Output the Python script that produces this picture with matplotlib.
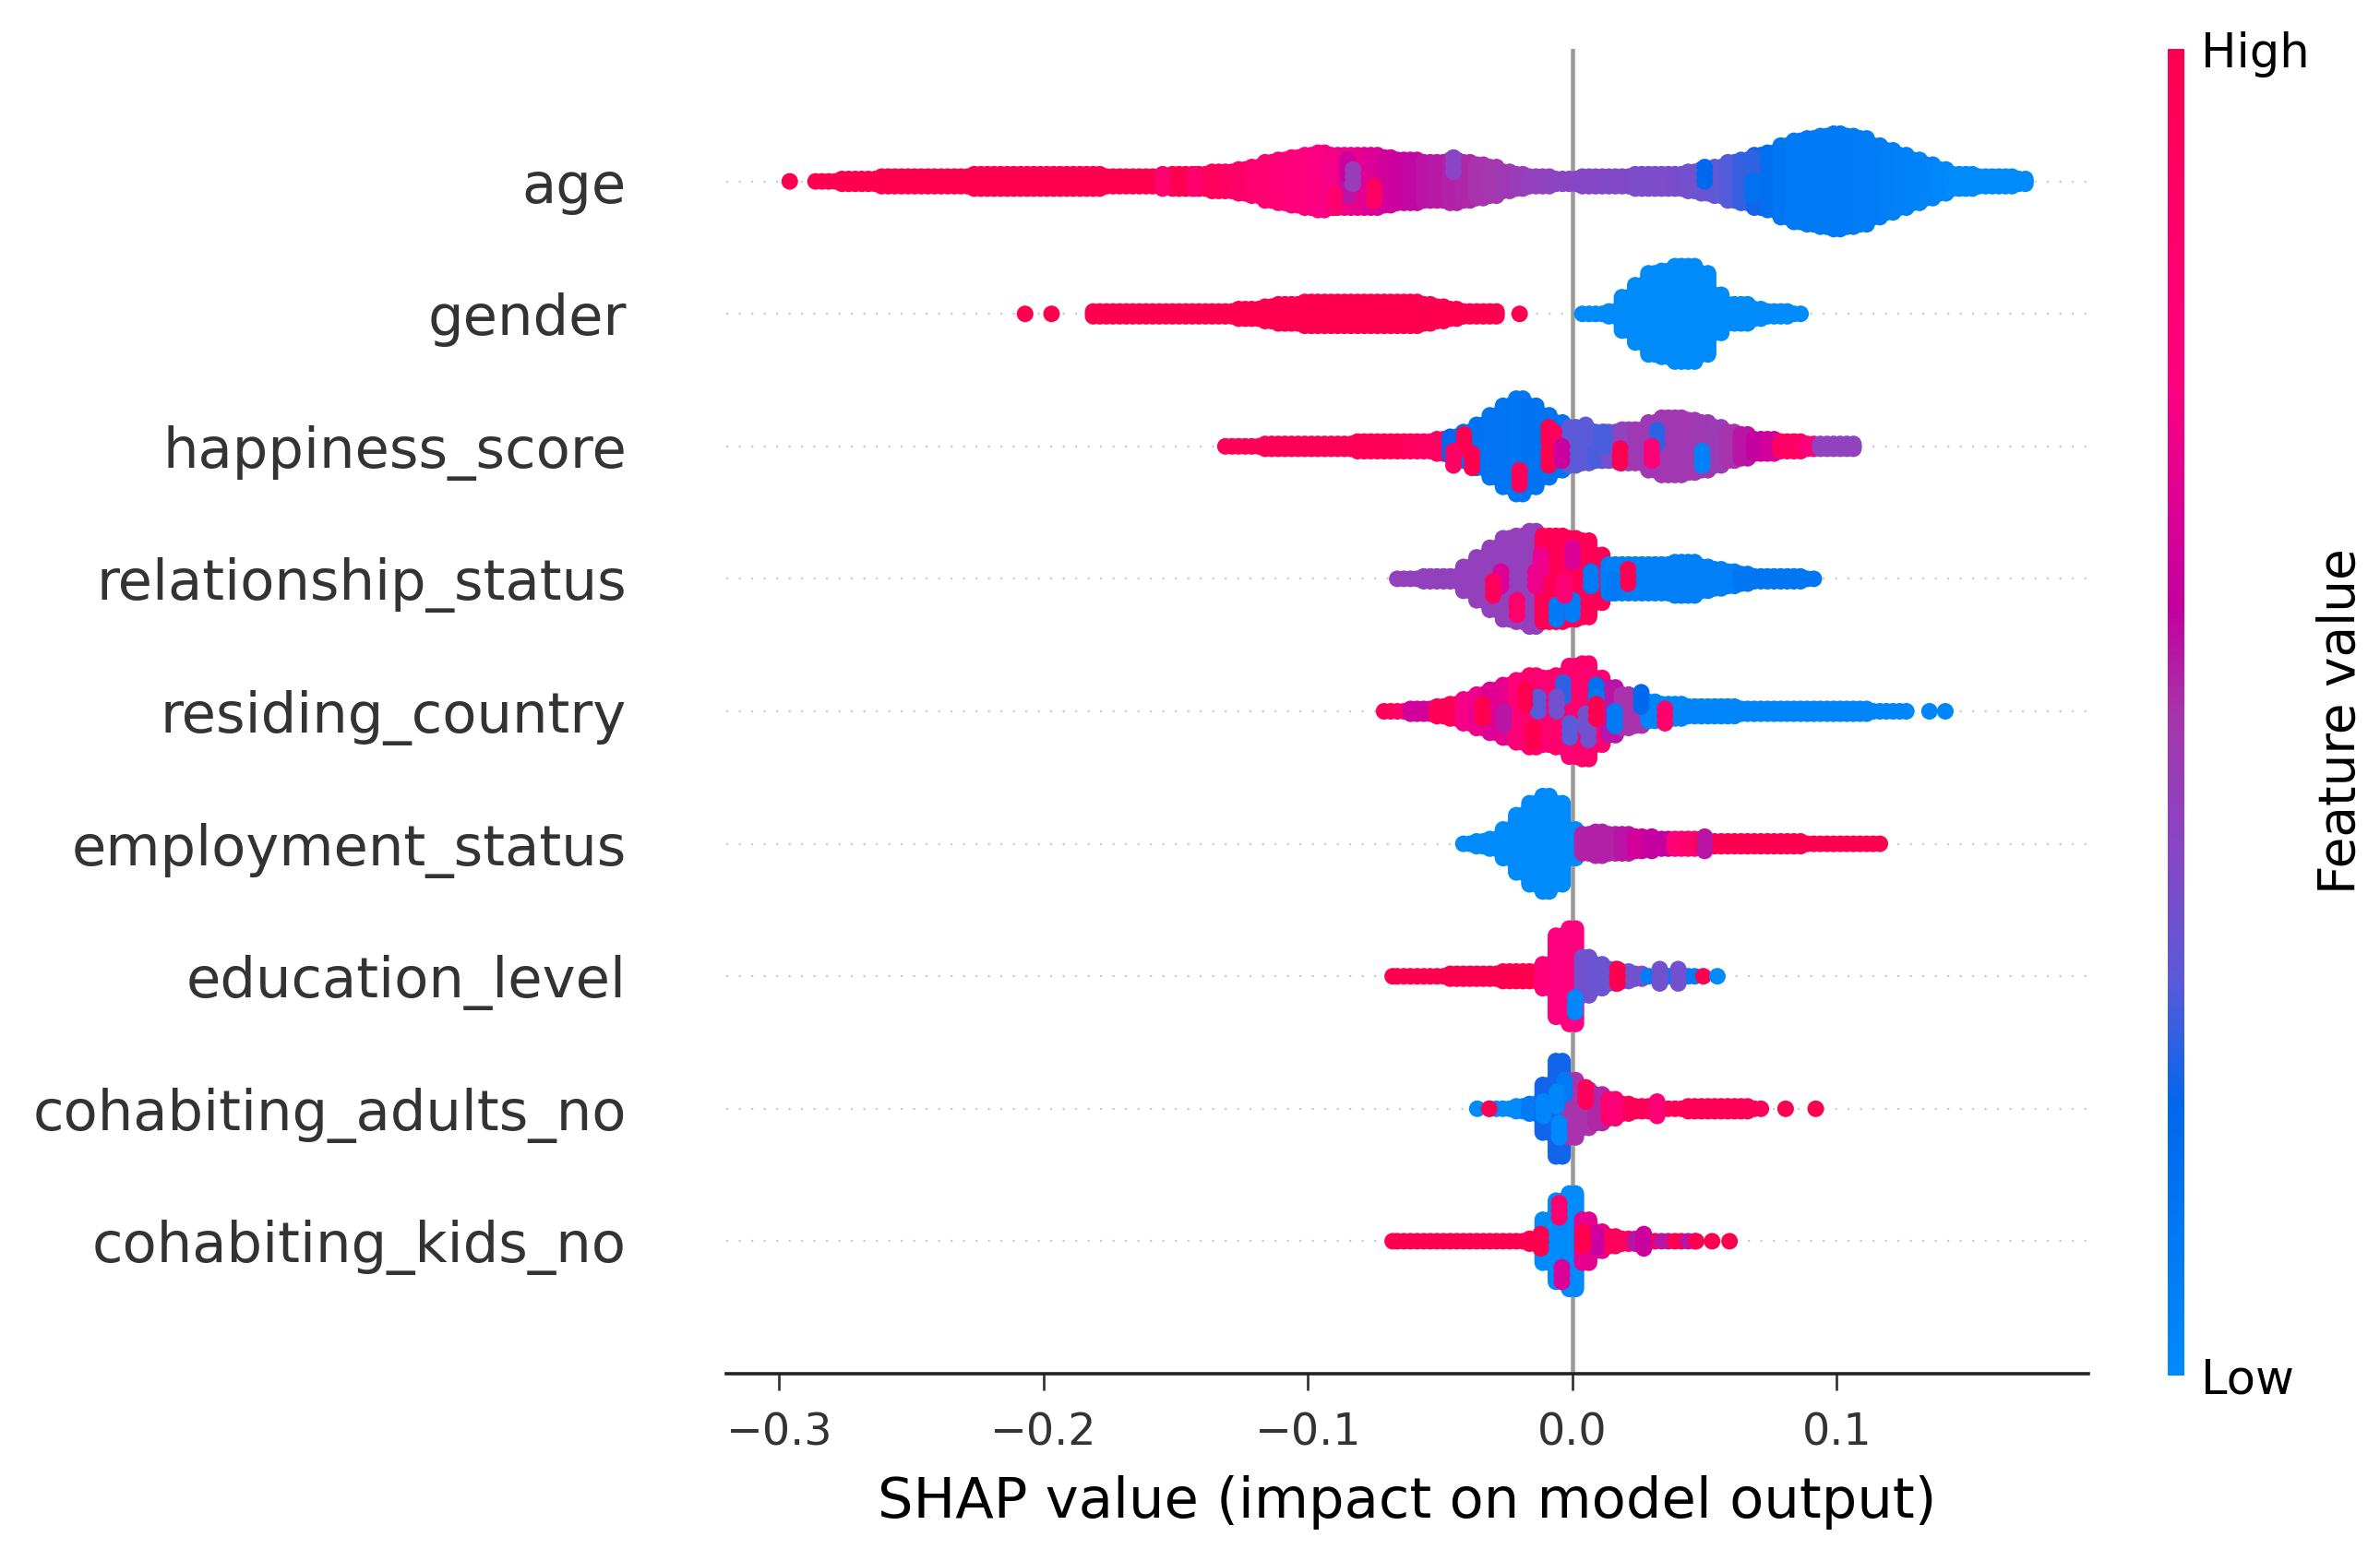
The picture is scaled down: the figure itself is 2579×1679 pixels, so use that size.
import numpy as np
import matplotlib
matplotlib.use("Agg")
import matplotlib.pyplot as plt
from matplotlib.colors import LinearSegmentedColormap

W, H, DPI = 2579, 1679, 324
BIN = 0.005
LAYER = 0.018

features = ["age", "gender", "happiness_score", "relationship_status", "residing_country",
            "employment_status", "education_level", "cohabiting_adults_no", "cohabiting_kids_no"]
x_ticks = [-0.3, -0.2, -0.1, 0.0, 0.1]

# For every feature: first bin centre, half-stack size per bin (-1 = empty bin),
# feature-value colour steps, lone outlier dots (x, value), and visible blobs (x, layer, value).
age_start = -0.285
age_counts = [0, 0, 1, 1, 1, 2, 2, 2, 2, 2, 2, 2, 3, 3, 3, 3, 3, 3, 3, 3, 3, 3, 2, 2, 2, 2, 2, 3, 3, 3,
              4, 4, 5, 6, 8, 9, 10, 11, 12, 11, 11, 11, 11, 10, 9, 9, 8, 8, 9, 8, 7, 6, 4, 3, 2, 2, 1, 1,
              2, 2, 2, 2, 3, 3, 3, 3, 4, 5, 6, 8, 9, 11, 12, 15, 17, 18, 19, 20, 19, 18, 15, 13, 11, 9, 7, 5,
              3, 3, 2, 2, 2, 1]
age_values = [1.0] * 29 + [0.97, 0.95, 0.92, 0.88, 0.84, 0.82, 0.80, 0.78, 0.76, 0.74, 0.72, 0.70, 0.68, 0.66, 0.62, 0.60,
              0.57, 0.55, 0.54, 0.53, 0.52, 0.50, 0.49, 0.47, 0.45, 0.43, 0.42, 0.41, 0.40, 0.39, 0.39, 0.38, 0.38,
              0.37, 0.37, 0.37, 0.36, 0.35, 0.33, 0.31, 0.29, 0.26, 0.22, 0.16, 0.12, 0.10, 0.09, 0.09, 0.10, 0.09,
              0.08, 0.08, 0.07, 0.06, 0.05, 0.04, 0.02, 0.01, 0.0, 0.0, 0.0, 0.0, 0.0]
age_dots = [(-0.296, 1.0)]
age_spots = [(-0.155, 0, 0.85), (-0.143, 0, 0.85), (-0.085, -3, 0.55), (-0.085, 6, 0.6), (-0.083, 2, 0.45),
             (-0.09, -8, 0.85), (-0.075, -5, 0.9), (-0.045, 7, 0.4), (0.05, 3, 0.2), (0.068, 7, 0.25), (0.068, -3, 0.15)]

gender_start = -0.18
gender_counts = [1, 1, 1, 1, 1, 1, 1, 1, 1, 1, 1, 2, 2, 3, 4, 4, 5, 5, 5, 5, 5, 5, 5, 5, 5, 4, 3, 2, 1, 1, 1,
                 -1, -1, -1, -1, -1, -1,
                 0, 0, 1, 7, 12, 17, 18, 20, 20, 17, 8, 4, 4, 2, 1, 1, 0]
gender_values = [1.0] * 31 + [1.0] * 6 + [0.0] * 17
gender_dots = [(-0.207, 1.0), (-0.197, 1.0), (-0.020, 1.0)]
gender_spots = []

happiness_start = -0.13
happiness_counts = [0, 0, 0, 1, 1, 1, 1, 1, 1, 1, 2, 2, 2, 2, 2, 2, 3, 4, 6, 9, 13, 17, 20, 17, 13, 10, 8, 7, 6, 6, 7, 7,
                    10, 12, 12, 11, 10, 8, 6, 5, 3, 3, 2, 2, 1, 1, 1, 1]
happiness_values = [0.97] * 14 + [0.93, 0.9, 0.9, 0.2, 0.14, 0.14, 0.13, 0.13, 0.12, 0.14, 0.14, 0.14, 0.3, 0.3, 0.28, 0.35,
                    0.42, 0.47, 0.47, 0.48, 0.48, 0.48, 0.47, 0.46, 0.5, 0.55, 0.58, 0.62, 0.9, 0.9, 0.8, 0.42, 0.42, 0.42]
happiness_dots = []
happiness_spots = [(-0.041, 2, 1.0), (-0.038, -6, 1.0), (-0.009, 5, 1.0), (-0.007, 3, 0.95), (-0.009, -5, 1.0),
                   (0.018, -4, 1.0), (0.049, -5, 0.05), (0.032, 4, 0.25), (-0.004, -3, 0.6),
                   (0.005, 6, 0.3), (0.012, 3, 0.28), (-0.045, -5, 0.9), (0.03, -3, 0.8), (-0.02, -13, 0.95)]

relationship_start = -0.065
relationship_counts = [0, 0, 1, 1, 1, 5, 9, 13, 17, 18, 20, 18, 18, 17, 16, 10, 6, 6, 6, 6, 6, 7, 7, 5, 4, 3, 2, 1, 1, 1, 1, 0]
relationship_values = [0.43] * 11 + [0.97] * 5 + [0.07] * 10 + [0.12] * 6
relationship_dots = []
relationship_spots = [(-0.027, 0, 0.65), (-0.030, -4, 0.95), (-0.021, -12, 0.85), (0.021, 1, 1.0),
                      (0.0, 10, 0.65), (0.0, -12, 0.08), (-0.006, -14, 0.1), (0.007, 0, 0.1), (-0.012, 7, 0.7), (-0.014, 0, 0.7),
                      (0.015, -3, 0.1), (-0.003, -4, 0.8)]

residing_start = -0.07
residing_counts = [0, 0, 1, 1, 2, 3, 5, 7, 9, 11, 13, 15, 14, 15, 19, 20, 14, 10, 7, 6, 4, 3, 3, 2, 2, 2, 2,
                   1, 1, 1, 1, 1, 1, 1, 1, 1, 1, 0, 0, 0]
residing_values = [0.97, 0.9, 0.62, 0.62, 0.97, 0.97, 0.72, 0.7, 0.66, 0.68, 0.8, 0.85, 0.82, 0.85, 0.82, 0.85, 0.82, 0.55, 0.5, 0.5,
                   0.03, 0.03, 0.03, 0.03, 0.03, 0.03, 0.03, 0.03, 0.03, 0.03, 0.03, 0.03, 0.03, 0.03, 0.03, 0.03, 0.03, 0.03, 0.03, 0.03]
residing_dots = [(0.135, 0.03), (0.141, 0.03)]
residing_spots = [(-0.0035, 9, 0.25), (0.009, 8, 0.15), (-0.013, 3, 0.3), (-0.006, 3, 0.35), (0.009, 3, 0.1), (0.005, -4, 0.35),
                  (-0.001, -8, 0.3), (0.006, -9, 0.35), (0.016, -3, 0.1), (0.026, 5, 0.2), (-0.018, 6, 1.0), (-0.034, 0, 1.0),
                  (-0.026, -3, 0.55), (0.009, 0, 1.0), (-0.015, -10, 1.0), (0.035, -2, 0.85)]

employment_start = -0.04
employment_counts = [0, 1, 2, 6, 12, 17, 20, 17, 6, 4, 5, 4, 4, 3, 2, 2, 2, 2, 1, 1, 1, 1, 1, 1, 1, 1, 0, 0, 0, 0, 0, 0]
employment_values = [0.0] * 9 + [0.53, 0.53, 0.53, 0.55, 0.62, 0.62, 0.58, 0.8, 0.85] + [1.0] * 14
employment_dots = []
employment_spots = [(0.05, 0, 0.55), (0.03, 0, 0.58)]

education_start = -0.065
education_counts = [0, 0, 0, 0, 1, 1, 1, 1, 2, 2, 2, 5, 17, 20, 8, 5, 3, 2, 1, 0, 0, 0, 0]
education_values = [1.0] * 11 + [0.78, 0.75, 0.75, 0.35, 0.33, 0.33, 0.35, 0.35, 0.08, 0.08, 0.08, 0.08]
education_dots = [(-0.068, 1.0), (0.0495, 1.0), (0.0548, 0.0)]
education_spots = [(0.017, 0, 1.0), (0.001, -12, 0.02), (0.033, 0, 0.35), (0.04, 0, 0.35)]

adults_start = -0.03
adults_counts = [0, 0, 1, 2, 10, 20, 12, 8, 6, 4, 2, 1, 1, 0, 0, 1, 1, 1, 1, 1, 0]
adults_values = [0.0, 0.0, 0.0, 0.1, 0.22, 0.22, 0.5, 0.5, 0.52, 0.85, 0.95, 0.97, 0.97, 0.97, 0.97, 0.97, 0.97, 0.97, 0.97, 0.97, 0.97]
adults_dots = [(-0.036, 0.0), (-0.0315, 1.0), (0.0806, 1.0), (0.092, 1.0)]
adults_spots = [(-0.005, -9, 0.02), (-0.003, 9, 0.1), (-0.006, 4, 0.03), (-0.011, 0, 0.03), (0.005, 6, 0.95), (0.016, 0, 0.8),
                (0.032, 0, 0.8)]

kids_start = -0.065
kids_counts = [0, 0, 0, 0, 0, 0, 0, 0, 0, 0, 1, 9, 17, 20, 9, 4, 2, 1, 1, 0, 0, 0, 0]
kids_values = [1.0] * 11 + [0.0, 0.0, 0.0, 0.68, 0.68, 0.95, 0.95, 0.55, 1.0, 0.55, 1.0, 0.55]
kids_dots = [(-0.068, 1.0), (0.0468, 1.0), (0.0528, 1.0), (0.0594, 1.0)]
kids_spots = [(0.009, 0, 0.6), (-0.012, 0, 1.0), (-0.005, 13, 0.85), (-0.004, -14, 0.65), (0.004, 1, 1.0), (0.027, 0, 0.6)]

swarms = [
    (age_start, age_counts, age_values, age_dots, age_spots),
    (gender_start, gender_counts, gender_values, gender_dots, gender_spots),
    (happiness_start, happiness_counts, happiness_values, happiness_dots, happiness_spots),
    (relationship_start, relationship_counts, relationship_values, relationship_dots, relationship_spots),
    (residing_start, residing_counts, residing_values, residing_dots, residing_spots),
    (employment_start, employment_counts, employment_values, employment_dots, employment_spots),
    (education_start, education_counts, education_values, education_dots, education_spots),
    (adults_start, adults_counts, adults_values, adults_dots, adults_spots),
    (kids_start, kids_counts, kids_values, kids_dots, kids_spots),
]

cmap = LinearSegmentedColormap.from_list("shap_red_blue", [
    (0.0, "#008bfb"), (0.2, "#0068ee"), (0.3, "#5d5ad8"), (0.4, "#8a45c4"), (0.5, "#a834ac"),
    (0.58, "#c400a0"), (0.65, "#db0098"), (0.75, "#ff0080"), (1.0, "#ff0051")])

fig = plt.figure(figsize=(W / DPI, H / DPI), dpi=DPI, facecolor="white")
ax = fig.add_axes([787 / W, 1 - 1489 / H, (2263 - 787) / W, (1489 - 53) / H])

n = len(features)
for i, (start, counts, values, dots, spots) in enumerate(swarms):
    row = n - 1 - i
    ax.axhline(row, color="#cccccc", lw=0.5, dashes=(1, 5), zorder=-1)
    xs, ys, vs = [], [], []
    for b, (c, val) in enumerate(zip(counts, values)):
        if c < 0:
            continue
        xb = start + b * BIN
        for k in range(-c, c + 1):
            for side in (-BIN / 4, BIN / 4):
                xs.append(xb + side)
                ys.append(row + k * LAYER)
                vs.append(val)
    for dx, dv in dots:
        xs.append(dx)
        ys.append(row)
        vs.append(dv)
    ax.scatter(xs, ys, c=vs, s=16, cmap=cmap, vmin=0, vmax=1, linewidths=0, zorder=3, rasterized=True)
    if spots:
        sx, sk, sv = [], [], []
        for px, pk, pv in spots:
            for dk in (-3, 0, 3):
                sx.append(px)
                sk.append(pk + dk)
                sv.append(pv)
        ax.scatter(sx, row + np.asarray(sk) * LAYER, c=sv, s=16, cmap=cmap, vmin=0, vmax=1, linewidths=0, zorder=4)

ax.axvline(0, color="#999999", lw=1.0, zorder=-1)
ax.set_xlim(-0.32, 0.1951)
ax.set_ylim(-1, n)
ax.set_yticks(range(n))
ax.set_yticklabels(features[::-1], fontsize=13.5, color="#333333")
ax.set_xticks(x_ticks)
ax.tick_params(axis="y", length=0, pad=24)
ax.tick_params(axis="x", labelsize=10.6, labelcolor="#333333", color="#333333", length=3.9, width=0.6, pad=5)
for s in ("left", "right", "top"):
    ax.spines[s].set_visible(False)
ax.spines["bottom"].set_linewidth(0.8)
ax.spines["bottom"].set_color("#222222")
ax.set_xlabel("SHAP value (impact on model output)", fontsize=13.5, labelpad=5)

cax = fig.add_axes([2349 / W, 1 - 1491 / H, 18 / W, (1491 - 53) / H])
cax.imshow(np.linspace(1, 0, 256).reshape(-1, 1), aspect="auto", cmap=cmap, vmin=0, vmax=1, extent=[0, 1, 0, 1])
cax.set_xticks([])
cax.yaxis.tick_right()
cax.set_yticks([0, 1])
cax.set_yticklabels(["Low", "High"], fontsize=11.4)
cax.tick_params(axis="y", length=0, pad=4)
for s in cax.spines.values():
    s.set_visible(False)
fig.text(2537 / W, 1 - 782 / H, "Feature value", rotation=90, fontsize=12.2, ha="center", va="center")

fig.savefig("out.png", dpi=DPI, facecolor="white")
